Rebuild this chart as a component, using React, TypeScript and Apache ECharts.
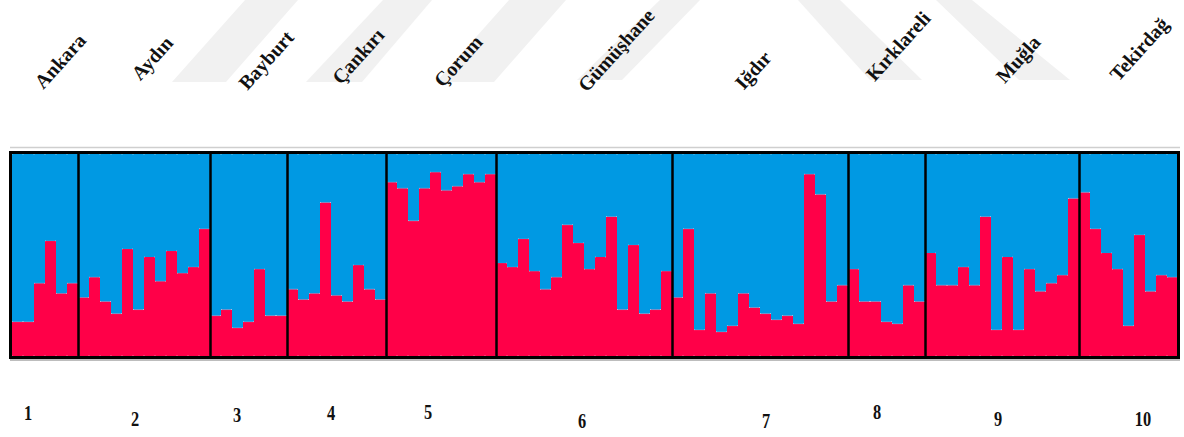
import React, { useEffect, useRef } from 'react';
import * as echarts from 'echarts';

// Population names (top, rotated) and numbers (bottom)
const populations = ['Ankara', 'Aydın', 'Bayburt', 'Çankırı', 'Çorum', 'Gümüşhane', 'Iğdır', 'Kırklareli', 'Muğla', 'Tekirdağ'];
const popNumbers = ['1', '2', '3', '4', '5', '6', '7', '8', '9', '10'];

// Membership coefficient of the red cluster for each individual
const ankara = [0.17, 0.17, 0.36, 0.57, 0.31, 0.36];
const aydin = [0.29, 0.39, 0.27, 0.21, 0.53, 0.23, 0.49, 0.37, 0.52, 0.41, 0.44, 0.63];
const bayburt = [0.2, 0.23, 0.14, 0.17, 0.43, 0.2, 0.2];
const cankiri = [0.33, 0.28, 0.31, 0.76, 0.3, 0.27, 0.45, 0.33, 0.28];
const corum = [0.86, 0.83, 0.67, 0.83, 0.91, 0.82, 0.84, 0.9, 0.86, 0.9];
const gumushane = [0.46, 0.44, 0.58, 0.42, 0.33, 0.39, 0.65, 0.56, 0.43, 0.49, 0.69, 0.23, 0.55, 0.21, 0.23, 0.42];
const igdir = [0.29, 0.63, 0.13, 0.31, 0.12, 0.15, 0.31, 0.24, 0.21, 0.18, 0.2, 0.16, 0.9, 0.8, 0.27, 0.35];
const kirklareli = [0.43, 0.27, 0.27, 0.17, 0.16, 0.35, 0.27];
const mugla = [0.51, 0.35, 0.35, 0.44, 0.35, 0.69, 0.13, 0.49, 0.13, 0.43, 0.32, 0.36, 0.4, 0.78];
const tekirdag = [0.81, 0.63, 0.51, 0.43, 0.15, 0.6, 0.32, 0.4, 0.39];

const groups = [ankara, aydin, bayburt, cankiri, corum, gumushane, igdir, kirklareli, mugla, tekirdag];

// Layout constants (pixels)
const namePos = [[60, 61], [152, 58], [266, 60], [358, 56], [458, 61], [616, 50], [753, 70], [898, 46], [1018, 59], [1139, 49]];
const numPos = [[28, 413], [135, 419], [237, 415], [331, 413], [428, 412], [582, 421], [766, 421], [877, 412], [998, 419], [1143, 419]];

const RED = '#ff0048';
const BLUE = '#0099e3';

export default function App() {
  const ref = useRef<HTMLDivElement>(null);
  useEffect(() => {
    const chart = echarts.init(ref.current!, null, { renderer: 'svg' });
    const red: number[] = [];
    groups.forEach((g) => g.forEach((v) => red.push(v)));
    const blue = red.map((v) => +(1 - v).toFixed(3));
    const ids = red.map((_, i) => String(i + 1));
    const bounds: number[] = [];
    let acc = 0;
    groups.forEach((g, i) => {
      acc += g.length;
      if (i < groups.length - 1) bounds.push(acc);
    });
    const total = red.length;

    const watermark = [
      [[172, 82], [226, 82], [298, 0], [245, 0]],
      [[306, 82], [362, 82], [432, 0], [383, 0]],
      [[436, 82], [494, 82], [566, 0], [509, 0]],
      [[577, 80], [622, 80], [700, 0], [660, 0]],
      [[798, 0], [840, 0], [922, 80], [870, 80]],
      [[936, 0], [972, 0], [1070, 80], [1019, 80]],
    ];

    const graphic: any[] = [];
    watermark.forEach((pts) =>
      graphic.push({ type: 'polygon', z: 0, silent: true, shape: { points: pts }, style: { fill: '#f1f1f1' } })
    );
    graphic.push({ type: 'line', z: 1, silent: true, shape: { x1: 10, y1: 147.5, x2: 1180, y2: 147.5 }, style: { stroke: '#cfcfcf', lineWidth: 1.5 } });
    graphic.push({ type: 'rect', z: 100, silent: true, shape: { x: 10.5, y: 152.5, width: 1168, height: 205 }, style: { fill: 'none', stroke: '#000', lineWidth: 3 } });
    graphic.push({ type: 'line', z: 99, silent: true, shape: { x1: 10, y1: 360, x2: 1180, y2: 360 }, style: { stroke: '#bdbdbd', lineWidth: 2 } });
    populations.forEach((name, i) => {
      graphic.push({
        type: 'text',
        z: 10,
        x: namePos[i][0],
        y: namePos[i][1],
        rotation: (48 * Math.PI) / 180,
        style: {
          text: name,
          fontFamily: '"Liberation Serif", "Times New Roman", serif',
          fontWeight: 'bold',
          fontSize: 20,
          fill: '#111',
          align: 'center',
          verticalAlign: 'middle',
          textAlign: 'center',
          textVerticalAlign: 'middle',
        },
      });
    });
    popNumbers.forEach((n, i) => {
      graphic.push({
        type: 'text',
        z: 10,
        x: numPos[i][0],
        y: numPos[i][1],
        scaleX: 0.78,
        style: {
          text: n,
          fontFamily: '"Liberation Serif", "Times New Roman", serif',
          fontWeight: 'bold',
          fontSize: 21,
          fill: '#111',
          align: 'center',
          verticalAlign: 'middle',
          textAlign: 'center',
          textVerticalAlign: 'middle',
        },
      });
    });

    chart.setOption({
      animation: false,
      backgroundColor: '#fff',
      grid: { left: 12, right: 6, top: 154, bottom: 81 },
      xAxis: [
        { type: 'category', data: ids, boundaryGap: true, show: false },
        { type: 'value', min: 0, max: total, show: false },
      ],
      yAxis: { type: 'value', min: 0, max: 1, show: false },
      series: [
        {
          type: 'bar',
          stack: 'q',
          data: red,
          barCategoryGap: '0%',
          itemStyle: { color: RED, borderColor: RED, borderWidth: 1 },
          silent: true,
        },
        {
          type: 'bar',
          stack: 'q',
          data: blue,
          barCategoryGap: '0%',
          itemStyle: { color: BLUE, borderColor: BLUE, borderWidth: 1 },
          silent: true,
        },
        {
          type: 'line',
          xAxisIndex: 1,
          data: [[0, 0], [total, 0]],
          symbol: 'none',
          lineStyle: { width: 0, opacity: 0 },
          silent: true,
          z: 5,
          markLine: {
            silent: true,
            symbol: 'none',
            label: { show: false },
            lineStyle: { color: '#000', width: 2.5, type: 'solid' },
            data: bounds.map((b) => ({ xAxis: b })),
          },
        },
      ],
      graphic,
    });
    return () => chart.dispose();
  }, []);
  return (
    <div
      ref={ref}
      style={{ position: 'fixed', left: 0, top: 0, width: 1184, height: 437, background: '#fff' }}
    />
  );
}
